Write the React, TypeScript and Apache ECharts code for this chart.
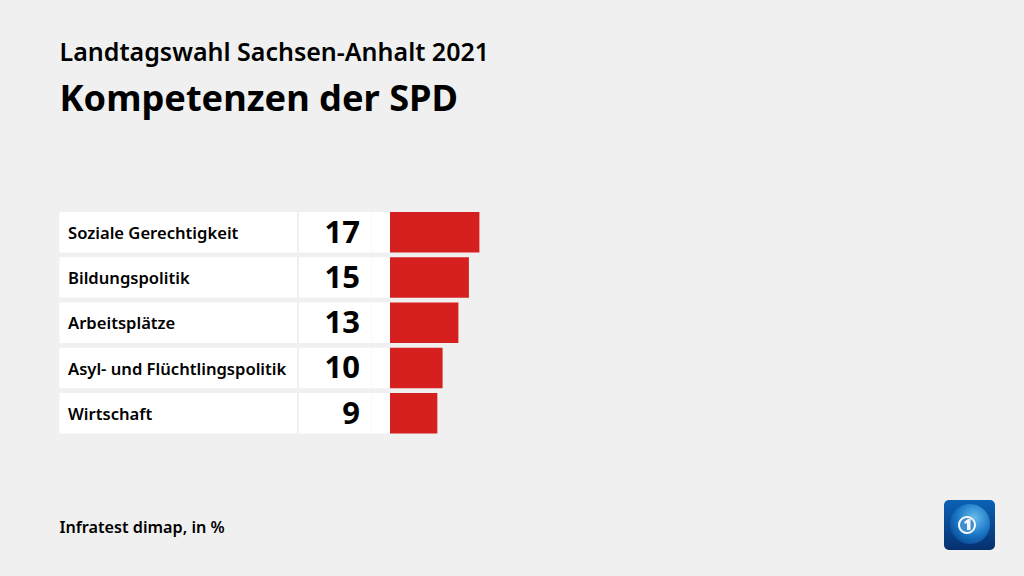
import React, { useEffect, useRef } from "react";
import * as echarts from "echarts";

const categories = ["Soziale Gerechtigkeit", "Bildungspolitik", "Arbeitsplätze", "Asyl- und Flüchtlingspolitik", "Wirtschaft"];
const values = [17, 15, 13, 10, 9];
const kicker = "Landtagswahl Sachsen-Anhalt 2021";
const headline = "Kompetenzen der SPD";
const source = "Infratest dimap, in %";

const FONT = "'Noto Sans', sans-serif";
const BG = "#f0f0f0";
const BAR = "#d6201f";

export default function App() {
  const ref = useRef<HTMLDivElement>(null);
  useEffect(() => {
    document.body.style.margin = "0";
    document.body.style.background = BG;
    const chart = echarts.init(ref.current!, undefined, { renderer: "svg" });
    chart.setOption({
      animation: false,
      backgroundColor: BG,
      grid: { left: 390, top: 209.5, width: 526, height: 226.5 },
      xAxis: { type: "value", min: 0, max: 100, show: false },
      yAxis: {
        type: "category",
        inverse: true,
        data: categories,
        z: 5,
        axisLine: { show: false },
        axisTick: { show: false },
        splitLine: { show: false },
        axisLabel: {
          align: "left",
          margin: 322,
          color: "#000",
          fontFamily: FONT,
          fontWeight: 600,
          fontSize: 16.6,
          padding: [2, 0, 0, 0],
        },
      },
      series: [
        {
          type: "custom",
          silent: true,
          z: 1,
          clip: false,
          data: values.map((_, i) => [0, i]),
          encode: { x: 0, y: 1 },
          renderItem: (_p: any, api: any) => {
            const c = api.coord([0, api.value(1)]);
            const h = 40.5;
            const top = c[1] - h / 2;
            return {
              type: "group",
              children: [
                { type: "rect", shape: { x: 59.5, y: top, width: 237.5, height: h }, style: { fill: "#fff" } },
                { type: "rect", shape: { x: 299, y: top, width: 91, height: h }, style: { fill: "#fff" } },
                { type: "rect", shape: { x: 371, y: top, width: 1, height: h }, style: { fill: "#f8f8f8" } },
              ],
            };
          },
        },
        {
          type: "bar",
          z: 2,
          barWidth: 40.5,
          data: values,
          itemStyle: { color: BAR },
          label: {
            show: true,
            position: [-30, "46%"],
            align: "right",
            verticalAlign: "middle",
            color: "#000",
            fontFamily: FONT,
            fontWeight: 700,
            fontSize: 31,
          },
        },
      ],
      graphic: [
        { type: "text", x: 59.5, y: 51, style: { text: kicker, fill: "#000", font: `600 25px ${FONT}`, textVerticalAlign: "middle" } },
        { type: "text", x: 59.5, y: 97, style: { text: headline, fill: "#000", font: `700 36.2px ${FONT}`, textVerticalAlign: "middle" } },
        { type: "text", x: 59.5, y: 527, style: { text: source, fill: "#000", font: `600 16.2px ${FONT}`, textVerticalAlign: "middle" } },
        {
          type: "group",
          x: 944,
          y: 500,
          children: [
            {
              type: "rect",
              shape: { x: 0, y: 0, width: 51, height: 50, r: 5 },
              style: {
                fill: new echarts.graphic.LinearGradient(0, 0, 0, 1, [
                  { offset: 0, color: "#0b62b4" },
                  { offset: 1, color: "#06306f" },
                ]),
              },
            },
            {
              type: "circle",
              shape: { cx: 26, cy: 24, r: 20 },
              style: {
                fill: new echarts.graphic.RadialGradient(0.6, 0.35, 0.7, [
                  { offset: 0, color: "#6bbcec" },
                  { offset: 0.6, color: "#1a78c6" },
                  { offset: 1, color: "#0b4d9a" },
                ]),
              },
            },
            { type: "circle", shape: { cx: 23, cy: 25, r: 9 }, style: { fill: "#3f8fd0" } },
            { type: "ring", shape: { cx: 23, cy: 25, r: 9, r0: 7 }, style: { fill: "#f2f7fb" } },
            {
              type: "polygon",
              shape: { points: [[24, 19], [26.5, 19], [26.5, 30], [23, 30], [23, 23], [20.5, 24], [20.5, 21.5]] },
              style: { fill: "#f2f7fb" },
            },
          ],
        },
      ],
    });
    return () => chart.dispose();
  }, []);
  return <div ref={ref} style={{ width: 1024, height: 576 }} />;
}
